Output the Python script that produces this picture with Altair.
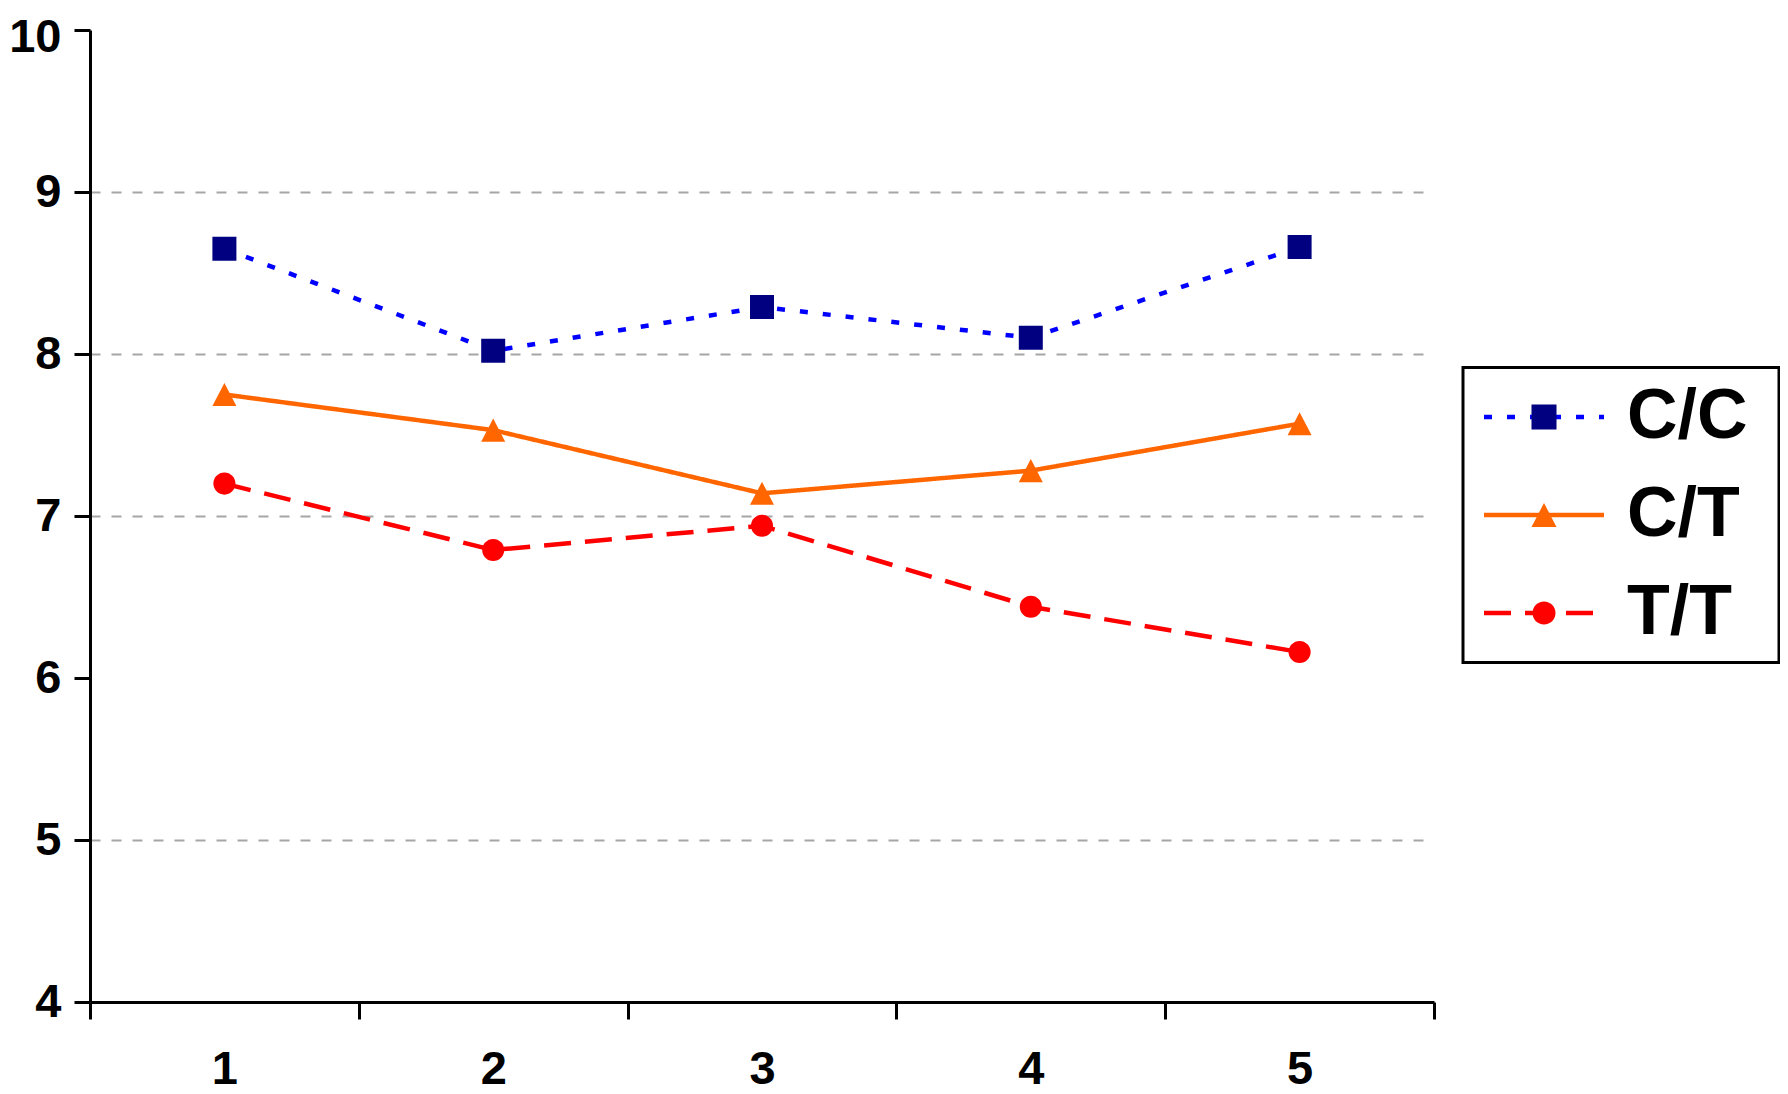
import altair as alt
import pandas as pd

# ---- data ----
timepoints = [1, 2, 3, 4, 5]
series_names = ["C/C", "C/T", "T/T"]
cc_values = [8.65, 8.02, 8.29, 8.10, 8.66]
ct_values = [7.75, 7.53, 7.14, 7.28, 7.57]
tt_values = [7.20, 6.79, 6.94, 6.44, 6.16]
y_tick_values = [4, 5, 6, 7, 8, 9, 10]
x_tick_values = [0.5, 1, 1.5, 2, 2.5, 3, 3.5, 4, 4.5, 5, 5.5]

# ---- styles ----
line_colors = ["#0000FF", "#FF6600", "#FF0000"]
marker_colors = ["#000080", "#FF6600", "#FF0000"]
line_dashes = [[8, 15], [1, 0], [27, 14]]
# marker outlines; the trailing move-to only widens the legend box
marker_shapes = [
    "M-1,-1H1V1H-1ZM17.64,0",
    "M0,-0.96L1,0.96H-1ZM17.64,0",
    "M-0.92,0A0.92,0.92 0 1,0 0.92,0A0.92,0.92 0 1,0 -0.92,0ZM17.64,0",
]
legend_line_symbol = "M-5.714,0H5.714M0,-3.333M0,3.333"
FONT = "Liberation Sans, Arial, sans-serif"

rows = []
for name, vals in zip(series_names, [cc_values, ct_values, tt_values]):
    for t, v in zip(timepoints, vals):
        rows.append({"time": t, "value": v, "series": name})
df = pd.DataFrame(rows)

x_enc = alt.X(
    "time:Q",
    scale=alt.Scale(domain=[0.5, 5.5], nice=False, zero=False),
    axis=alt.Axis(
        values=x_tick_values,
        labelExpr="datum.value % 1 === 0 ? '' + datum.value : ''",
        tickOpacity={"condition": {"test": "datum.value % 1 === 0", "value": 0}, "value": 1},
        tickSize=17, tickWidth=3, tickColor="black",
        domainColor="black", domainWidth=3,
        labelFont=FONT, labelFontSize=47, labelFontWeight="bold", labelColor="black",
        labelPadding=27, labelFlush=False, labelOverlap=False,
        grid=False, title=None,
    ),
)
y_enc = alt.Y(
    "value:Q",
    scale=alt.Scale(domain=[4, 10], nice=False, zero=False),
    axis=alt.Axis(
        values=y_tick_values,
        tickSize=16, tickWidth=3, tickColor="black",
        domainColor="black", domainWidth=3,
        labelFont=FONT, labelFontSize=47, labelFontWeight="bold", labelColor="black",
        labelPadding=13, labelFlush=False, labelOverlap=False,
        labelOffset={"condition": {"test": "datum.value === 10", "value": 7}, "value": 0},
        grid=True, gridColor="#A6A6A6", gridWidth=2, gridDash=[10, 11],
        gridOpacity={"condition": {"test": "datum.value === 4 || datum.value === 6 || datum.value === 10", "value": 0}, "value": 1},
        title=None,
    ),
)

base = alt.Chart(df)

lines = base.mark_line(strokeWidth=4.5).encode(
    x=x_enc,
    y=y_enc,
    color=alt.Color(
        "series:N",
        scale=alt.Scale(range=line_colors),
        legend=alt.Legend(
            title=None, orient="none", legendX=1389, legendY=352, padding=0,
            symbolType=legend_line_symbol, symbolSize=441, symbolStrokeWidth=4.5,
            symbolOffset=30, labelOffset=10, rowPadding=10,
            labelExpr="''",
            labelFont=FONT, labelFontSize=70, labelFontWeight="bold", labelColor="black",
            labelLimit=400,
        ),
    ),
    strokeDash=alt.StrokeDash("series:N", scale=alt.Scale(range=line_dashes)),
)

points = base.transform_calculate(marker="datum.series").mark_point(
    filled=True, opacity=1, size=576
).encode(
    x=x_enc,
    y=y_enc,
    fill=alt.Fill(
        "marker:N",
        scale=alt.Scale(range=marker_colors),
        legend=alt.Legend(
            title=None, orient="none", legendX=1373, legendY=337.5, padding=14.5,
            strokeColor="black",
            symbolSize=625, symbolStrokeWidth=0, symbolOpacity=1,
            symbolOffset=31.5, labelOffset=48, rowPadding=28,
            labelFont=FONT, labelFontSize=70, labelFontWeight="bold", labelColor="black",
            labelLimit=400,
        ),
    ),
    shape=alt.Shape("marker:N", scale=alt.Scale(range=marker_shapes)),
)

chart = (
    alt.layer(lines, points)
    .properties(
        width=1344, height=972,
        autosize=alt.AutoSizeParams(type="none"),
        padding={"left": 82, "top": 22, "right": 346, "bottom": 92},
        background="white",
    )
    .configure_view(stroke=None)
    .configure_legend(strokeWidth=3)
)

chart.save("out.html", embed_options={"renderer": "svg", "actions": False})
